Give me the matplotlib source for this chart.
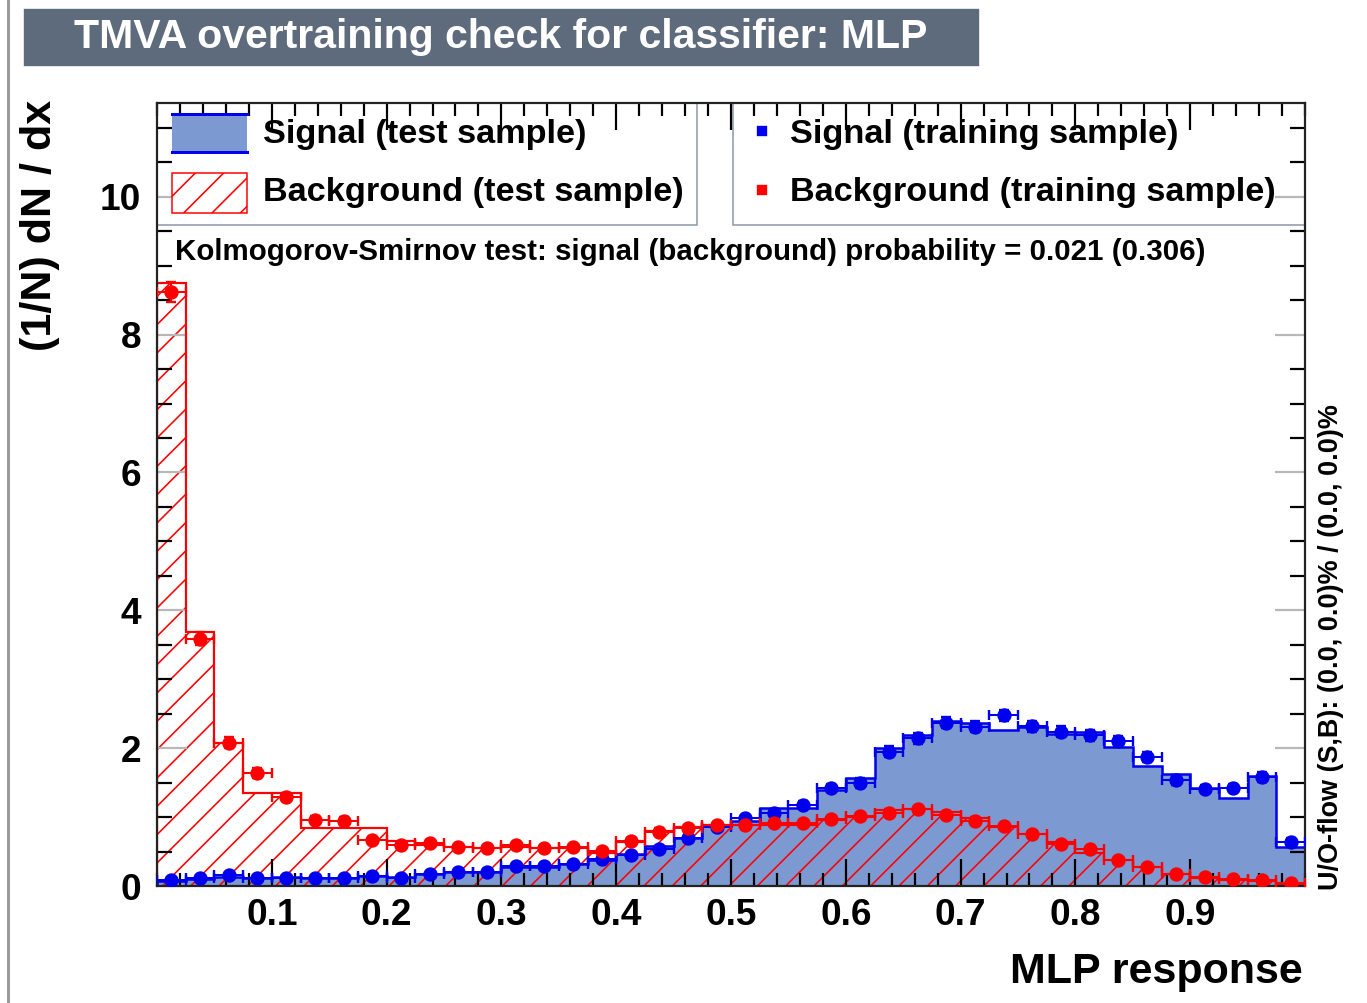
import matplotlib

matplotlib.use("Agg")
import matplotlib.pyplot as plt
import numpy as np
from matplotlib.lines import Line2D
from matplotlib.patches import Rectangle
from matplotlib.ticker import FixedLocator, MultipleLocator

W, H, DPI = 1367, 1003, 170

# MLP response binning: 40 bins on [0, 1]
x_lo, x_hi, n_bins = 0.0, 1.0, 40

sig_test = [0.07, 0.10, 0.13, 0.12, 0.13, 0.12, 0.12, 0.14, 0.13, 0.17,
            0.21, 0.21, 0.27, 0.28, 0.32, 0.38, 0.46, 0.58, 0.70, 0.87,
            0.94, 1.13, 1.13, 1.39, 1.57, 2.00, 2.19, 2.40, 2.36, 2.27,
            2.31, 2.21, 2.24, 2.02, 1.74, 1.63, 1.42, 1.27, 1.59, 0.57]
sig_train = [0.08, 0.11, 0.16, 0.12, 0.12, 0.12, 0.12, 0.15, 0.12, 0.18,
             0.21, 0.21, 0.29, 0.29, 0.32, 0.39, 0.45, 0.53, 0.70, 0.86,
             0.98, 1.06, 1.17, 1.42, 1.49, 1.95, 2.14, 2.37, 2.31, 2.48,
             2.32, 2.24, 2.19, 2.10, 1.87, 1.54, 1.41, 1.42, 1.58, 0.64]
sig_err = [0.02, 0.02, 0.03, 0.02, 0.02, 0.02, 0.02, 0.03, 0.02, 0.03,
           0.03, 0.03, 0.03, 0.03, 0.03, 0.04, 0.04, 0.04, 0.05, 0.05,
           0.05, 0.06, 0.06, 0.06, 0.07, 0.08, 0.08, 0.08, 0.08, 0.08,
           0.08, 0.08, 0.08, 0.08, 0.07, 0.07, 0.06, 0.06, 0.07, 0.05]
bkg_test = [8.75, 3.68, 2.07, 1.35, 1.35, 0.84, 0.84, 0.84, 0.66, 0.60,
            0.56, 0.55, 0.57, 0.55, 0.55, 0.48, 0.64, 0.80, 0.86, 0.88,
            0.88, 0.88, 0.89, 0.96, 1.00, 1.10, 1.12, 1.08, 0.98, 0.86,
            0.76, 0.64, 0.48, 0.38, 0.28, 0.18, 0.12, 0.08, 0.07, 0.03]
bkg_train = [8.62, 3.59, 2.08, 1.64, 1.29, 0.96, 0.95, 0.67, 0.59, 0.63,
             0.56, 0.55, 0.59, 0.55, 0.56, 0.51, 0.66, 0.79, 0.84, 0.88,
             0.88, 0.92, 0.91, 0.97, 1.01, 1.06, 1.11, 1.03, 0.95, 0.87,
             0.75, 0.61, 0.53, 0.38, 0.27, 0.18, 0.13, 0.10, 0.09, 0.04]
bkg_err = [0.15, 0.10, 0.08, 0.07, 0.06, 0.05, 0.05, 0.04, 0.04, 0.04,
           0.04, 0.04, 0.04, 0.04, 0.04, 0.04, 0.04, 0.05, 0.05, 0.05,
           0.05, 0.05, 0.05, 0.05, 0.05, 0.05, 0.05, 0.05, 0.05, 0.05,
           0.05, 0.04, 0.04, 0.03, 0.03, 0.02, 0.02, 0.02, 0.02, 0.01]

x_tick_vals = [0.1, 0.2, 0.3, 0.4, 0.5, 0.6, 0.7, 0.8, 0.9]
x_tick_labels = ["0.1", "0.2", "0.3", "0.4", "0.5", "0.6", "0.7", "0.8", "0.9"]
y_tick_vals = [0, 2, 4, 6, 8, 10]
y_max = 11.36

title = "TMVA overtraining check for classifier: MLP"
ks_text = "Kolmogorov-Smirnov test: signal (background) probability = 0.021 (0.306)"
uo_text = "U/O-flow (S,B): (0.0, 0.0)% / (0.0, 0.0)%"

SIG_FILL = "#7d99d1"
SIG_LINE = "#0000ee"
BKG = "#ff0000"


def pt(n):
    # pixels -> points at the output dpi
    return n * 72.0 / DPI


def fx(x):
    return x / W


def fy(y):
    return 1 - y / H


plt.rcParams["font.family"] = ["Liberation Sans", "DejaVu Sans"]
plt.rcParams["font.weight"] = "bold"
plt.rcParams["hatch.linewidth"] = pt(1.6)

edges = np.linspace(x_lo, x_hi, n_bins + 1)
centers = 0.5 * (edges[:-1] + edges[1:])
half_w = 0.5 * (edges[1] - edges[0])

fig = plt.figure(figsize=(W / DPI, H / DPI), dpi=DPI)
ax = fig.add_axes([fx(157), fy(886), fx(1305 - 157), (886 - 103) / H])

# test samples as histograms
ax.stairs(sig_test, edges, fill=True, color=SIG_FILL, lw=0, zorder=1)
ax.stairs(sig_test, edges, color=SIG_LINE, lw=pt(2.5), zorder=2)
ax.stairs(bkg_test, edges, fill=True, facecolor="none", edgecolor=BKG,
          hatch="//", lw=0, zorder=1.1)
ax.stairs(bkg_test, edges, color=BKG, lw=pt(2.2), zorder=2.1)

# training samples as points
ax.errorbar(centers, sig_train, xerr=half_w, yerr=sig_err, fmt="o",
            color=SIG_LINE, ms=pt(12), lw=pt(2), capsize=pt(5), zorder=3)
ax.errorbar(centers, bkg_train, xerr=half_w, yerr=bkg_err, fmt="o",
            color=BKG, ms=pt(12), lw=pt(2), capsize=pt(5), zorder=3.1)

ax.set_xlim(x_lo, x_hi)
ax.set_ylim(0, y_max)
ax.xaxis.set_major_locator(FixedLocator(x_tick_vals))
ax.set_xticklabels(x_tick_labels)
ax.xaxis.set_minor_locator(MultipleLocator(0.02))
ax.yaxis.set_major_locator(FixedLocator(y_tick_vals))
ax.yaxis.set_minor_locator(MultipleLocator(0.5))
ax.tick_params(which="both", direction="in", top=True, right=True,
               width=pt(2.2), labelsize=pt(37))
ax.tick_params(axis="x", which="major", length=pt(27), pad=pt(12))
ax.tick_params(axis="x", which="minor", length=pt(13))
ax.tick_params(axis="y", which="major", length=pt(30), color="#b8b8b8", pad=pt(16))
ax.tick_params(axis="y", which="minor", length=pt(15))
for s in ax.spines.values():
    s.set_linewidth(pt(2.2))
    s.set_color("#222222")

# legend boxes
box_kw = dict(transform=fig.transFigure, facecolor="white", edgecolor="#8a94a6",
              lw=pt(1.5), zorder=1.2, clip_on=False)
ax.add_patch(Rectangle((fx(157), fy(225)), fx(697 - 157), (225 - 103) / H, **box_kw))
ax.add_patch(Rectangle((fx(733), fy(225)), fx(1305 - 733), (225 - 103) / H, **box_kw))

ax.add_patch(Rectangle((fx(172), fy(153)), fx(75), 40 / H, transform=fig.transFigure,
                       facecolor=SIG_FILL, lw=0, zorder=3, clip_on=False))
for yy in (114, 152):
    ax.add_line(Line2D([fx(172), fx(247)], [fy(yy), fy(yy)], transform=fig.transFigure,
                       color=SIG_LINE, lw=pt(3), zorder=3.2, clip_on=False))
ax.add_patch(Rectangle((fx(172), fy(213)), fx(75), 40 / H, transform=fig.transFigure,
                       facecolor="white", edgecolor=BKG, hatch="//", lw=pt(1.5),
                       zorder=3, clip_on=False))
ax.add_line(Line2D([fx(762)], [fy(131)], transform=fig.transFigure, marker="s",
                   ms=pt(8), color=SIG_LINE, ls="none", zorder=3, clip_on=False))
ax.add_line(Line2D([fx(762)], [fy(190)], transform=fig.transFigure, marker="s",
                   ms=pt(8), color=BKG, ls="none", zorder=3, clip_on=False))

leg_fs = pt(34.2)
fig.text(fx(263), fy(134), "Signal (test sample)", fontsize=leg_fs, va="center")
fig.text(fx(263), fy(193), "Background (test sample)", fontsize=leg_fs, va="center")
fig.text(fx(790), fy(134), "Signal (training sample)", fontsize=leg_fs, va="center")
fig.text(fx(790), fy(193), "Background (training sample)", fontsize=leg_fs, va="center")
fig.text(fx(175), fy(252), ks_text, fontsize=pt(29.5), va="center")

# title bar
fig.patches.append(Rectangle((fx(25), fy(65)), fx(978 - 25), 55 / H,
                             transform=fig.transFigure, color="#5d6b7d", zorder=0))
fig.text(fx(501), fy(37), title, color="white", fontsize=pt(41), ha="center", va="center")

# axis titles
fig.text(fx(40), fy(100), "(1/N) dN / dx", rotation=90, fontsize=pt(43),
         ha="center", va="top")
fig.text(fx(1303), fy(972), "MLP response", fontsize=pt(43), ha="right", va="center")
fig.text(fx(1331), fy(890), uo_text, rotation=90, fontsize=pt(27),
         ha="center", va="bottom")

# window edge on the left
fig.add_artist(Line2D([fx(8), fx(8)], [0, 1], transform=fig.transFigure,
                      color="#9a9a9a", lw=pt(3)))

fig.savefig("out.png", dpi=DPI)
plt.close(fig)
